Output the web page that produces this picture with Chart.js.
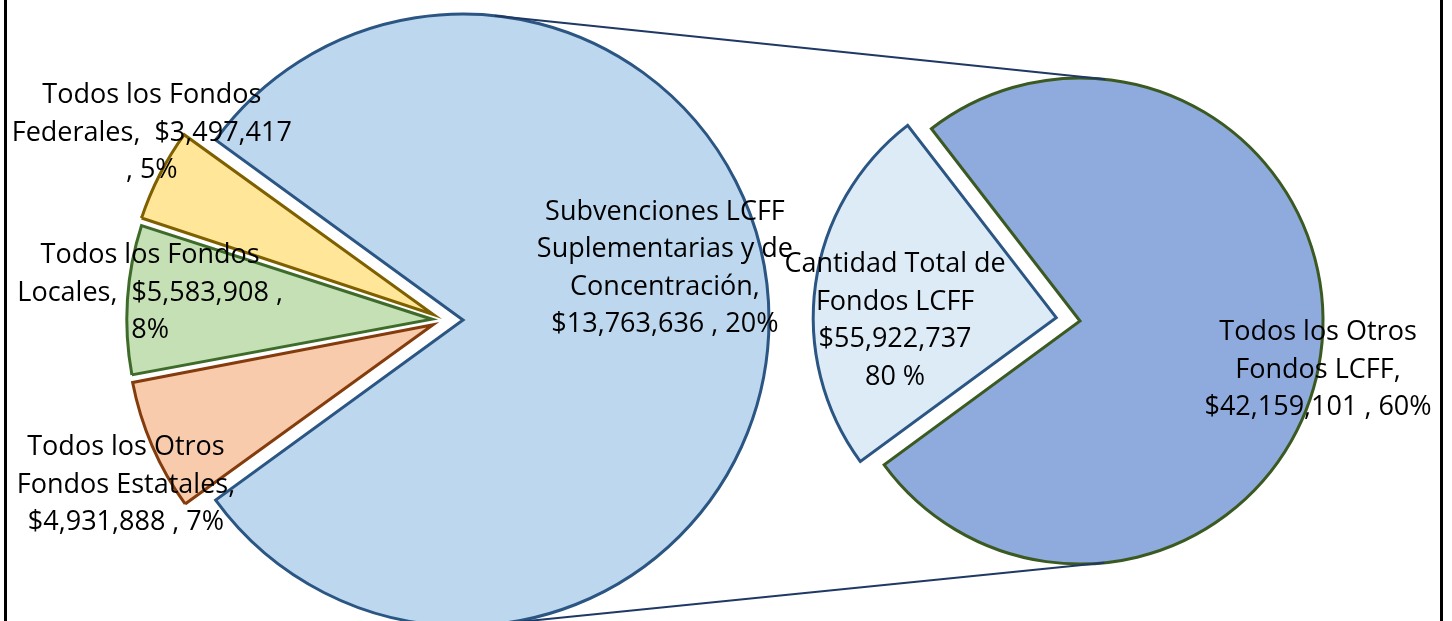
<!DOCTYPE html>
<html>
<head>
<meta charset="utf-8">
<script src="https://cdn.jsdelivr.net/npm/chart.js@4.4.0/dist/chart.umd.min.js"></script>
<style>
html, body { margin: 0; padding: 0; width: 1452px; height: 621px; overflow: hidden; background: #fff; }
#frame { position: absolute; left: 4px; top: -5px; width: 1433px; height: 640px; border-left: 3px solid #000; border-right: 3px solid #000; }
canvas { position: absolute; }
#leftMain { left: 1px; top: 0; }
#leftSmall { left: -18px; top: 0; }
#rightPie { left: 700px; top: 0; }
#lines { left: 0; top: 0; pointer-events: none; }
</style>
</head>
<body>
<div id="frame"></div>
<canvas id="leftMain" width="924" height="640"></canvas>
<canvas id="leftSmall" width="924" height="640"></canvas>
<canvas id="rightPie" width="760" height="642"></canvas>
<canvas id="lines" width="1452" height="621"></canvas>
<script>
// data
var leftCategories = ["Cantidad Total de Fondos LCFF", "Todos los Otros Fondos Estatales", "Todos los Fondos Locales", "Todos los Fondos Federales"];
var leftValues = [55922737, 4931888, 5583908, 3497417];
var rightCategories = ["Subvenciones LCFF Suplementarias y de Concentración", "Todos los Otros Fondos LCFF"];
var rightValues = [13763636, 42159101];

// label text as shown on the chart
var leftLabelLines = [
  ["Subvenciones LCFF", "Suplementarias y de", "Concentración,", "$13,763,636 , 20%"],
  ["Todos los Otros", "Fondos Estatales,", "$4,931,888 , 7%"],
  ["Todos los Fondos", "Locales,  $5,583,908 ,", "8%"],
  ["Todos los Fondos", "Federales,  $3,497,417", ", 5%"]
];
var rightLabelLines = [
  ["Cantidad Total de", "Fondos LCFF", "$55,922,737", "80 %"],
  ["Todos los Otros", "Fondos LCFF,", "$42,159,101 , 60%"]
];

// styling / placement
var leftFill = ["#bdd7ee", "#f8cbad", "#c5e0b4", "#ffe699"];
var leftBorder = ["#2b5683", "#843c0c", "#3f6b2a", "#7f6000"];
var rightFill = ["#ddebf7", "#8faadc"];
var rightBorder = ["#2b5683", "#3b5a21"];
var leftLabelPos = [[0.681, -14.3], [1.198, 152.6], [0.987, 185.2], [1.160, 212.6]];
var rightLabelPos = [[0.761, 180], [1.0, 11.6]];
var FONT = "27px 'Open Sans'";
var LINE_H = 37.5;
var T = "rgba(0,0,0,0)";

function sum(a) { return a.reduce(function (s, v) { return s + v; }, 0); }
var leftRotation = 90 - 180 * leftValues[0] / sum(leftValues);
var rightRotation = 188 + 90 - 180 * rightValues[0] / sum(rightValues);

var sliceLabels = {
  id: "sliceLabels",
  afterDatasetsDraw: function (chart, args, opts) {
    var ctx = chart.ctx;
    var arcs = chart.getDatasetMeta(0).data;
    ctx.save();
    ctx.font = FONT;
    ctx.fillStyle = "#000";
    ctx.textAlign = "center";
    ctx.textBaseline = "middle";
    opts.show.forEach(function (i) {
      var a = arcs[i];
      var ang = opts.pos[i][1] * Math.PI / 180;
      var cx = a.x + Math.cos(ang) * a.outerRadius * opts.pos[i][0];
      var cy = a.y + Math.sin(ang) * a.outerRadius * opts.pos[i][0];
      var lines = opts.lines[i];
      lines.forEach(function (t, k) {
        ctx.fillText(t, cx, cy + (k - (lines.length - 1) / 2) * LINE_H);
      });
    });
    ctx.restore();
  }
};

function pieOptions(rotation, radius, labels) {
  return {
    responsive: false,
    animation: false,
    devicePixelRatio: 1,
    rotation: rotation,
    radius: radius,
    layout: { padding: 0 },
    plugins: {
      legend: { display: false },
      tooltip: { enabled: false },
      sliceLabels: labels
    }
  };
}

var leftMain = new Chart("leftMain", {
  type: "pie",
  data: {
    labels: leftCategories,
    datasets: [{
      data: leftValues,
      backgroundColor: [leftFill[0], T, T, T],
      borderColor: [leftBorder[0], T, T, T],
      borderWidth: [3, 0, 0, 0],
      borderJoinStyle: "miter"
    }]
  },
  options: pieOptions(leftRotation, 306, { show: [0], pos: leftLabelPos, lines: leftLabelLines }),
  plugins: [sliceLabels]
});

var leftSmall = new Chart("leftSmall", {
  type: "pie",
  data: {
    labels: leftCategories,
    datasets: [{
      data: leftValues,
      backgroundColor: [T, leftFill[1], leftFill[2], leftFill[3]],
      borderColor: [T, leftBorder[1], leftBorder[2], leftBorder[3]],
      borderWidth: [0, 3, 3, 3],
      borderJoinStyle: "miter",
      offset: [0, 48, 48, 48]
    }]
  },
  options: pieOptions(leftRotation, 299, { show: [1, 2, 3], pos: leftLabelPos, lines: leftLabelLines }),
  plugins: [sliceLabels]
});

var rightPie = new Chart("rightPie", {
  type: "pie",
  data: {
    labels: rightCategories,
    datasets: [{
      data: rightValues,
      backgroundColor: rightFill,
      borderColor: rightBorder,
      borderWidth: 3,
      borderJoinStyle: "miter",
      offset: [96, 0]
    }]
  },
  options: pieOptions(rightRotation, 243, { show: [0, 1], pos: rightLabelPos, lines: rightLabelLines }),
  plugins: [sliceLabels]
});

// connector lines: outer common tangents of the two pies
(function () {
  var a = leftMain.getDatasetMeta(0).data[0];
  var b = rightPie.getDatasetMeta(0).data[1];
  var c1 = { x: a.x + leftMain.canvas.offsetLeft, y: a.y + leftMain.canvas.offsetTop, r: a.outerRadius };
  var c2 = { x: b.x + rightPie.canvas.offsetLeft, y: b.y + rightPie.canvas.offsetTop, r: b.outerRadius };
  var dx = c2.x - c1.x, dy = c2.y - c1.y;
  var d = Math.sqrt(dx * dx + dy * dy);
  var th = Math.atan2(dy, dx);
  var phi = Math.acos((c1.r - c2.r) / d);
  var ctx = document.getElementById("lines").getContext("2d");
  ctx.strokeStyle = "#1f3864";
  ctx.lineWidth = 2;
  [th - phi, th + phi].forEach(function (n) {
    ctx.beginPath();
    ctx.moveTo(c1.x + Math.cos(n) * c1.r, c1.y + Math.sin(n) * c1.r);
    ctx.lineTo(c2.x + Math.cos(n) * c2.r, c2.y + Math.sin(n) * c2.r);
    ctx.stroke();
  });
})();
</script>
</body>
</html>
